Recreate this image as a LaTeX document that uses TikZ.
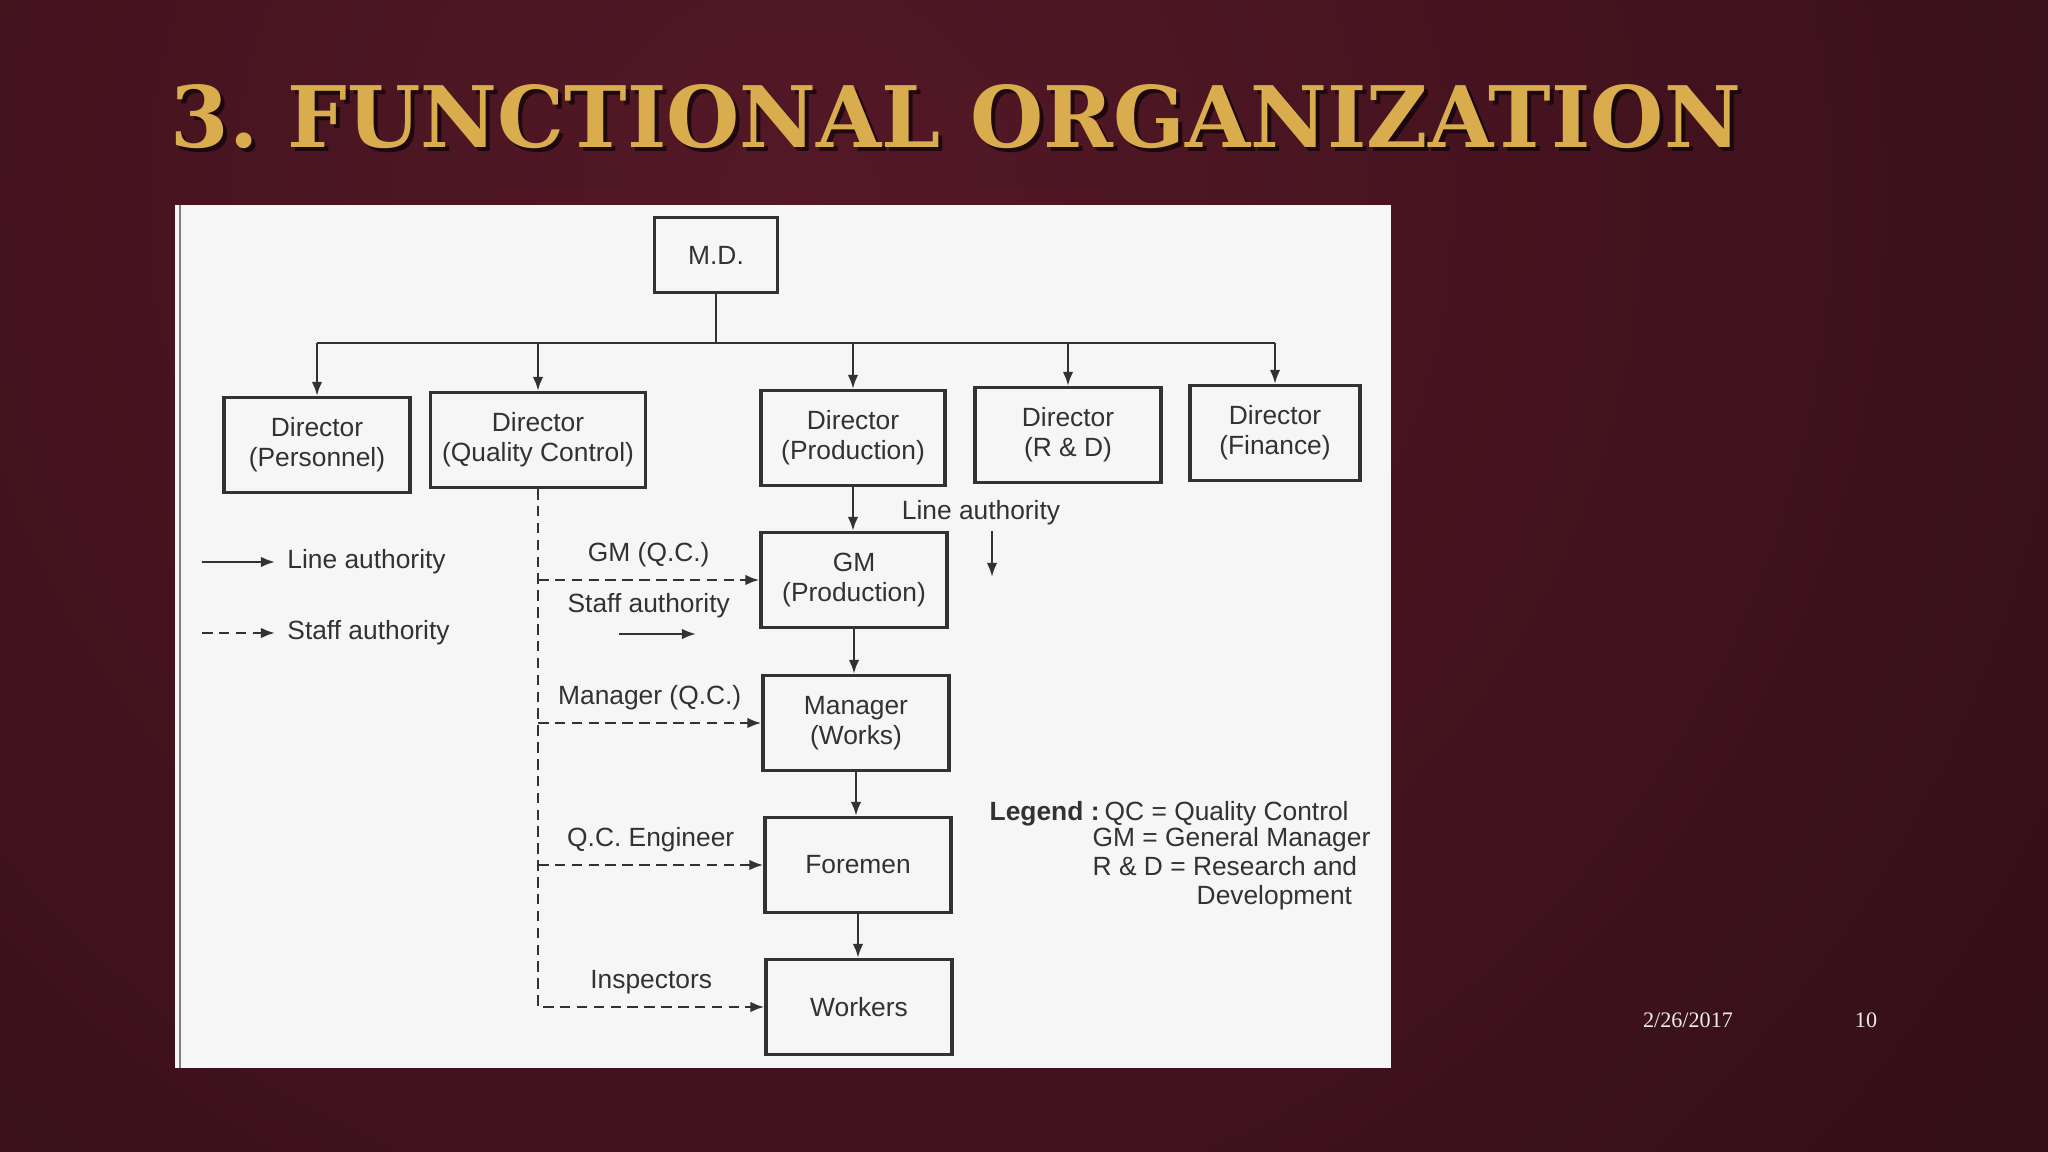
\documentclass[tikz,border=0pt]{standalone}
\usepackage{fontspec}
\setmainfont{Liberation Sans}
\newfontfamily\titlefont{DejaVu Serif}
\newfontfamily\datefont{Liberation Serif}
\usetikzlibrary{arrows.meta}
\definecolor{gold}{RGB}{217,172,78}
\definecolor{wine}{RGB}{84,24,38}
\definecolor{winedark}{RGB}{30,8,14}
\definecolor{ink}{RGB}{50,50,50}
\definecolor{paper}{RGB}{246,246,246}

\begin{document}
\begin{tikzpicture}[x=0.1mm, y=-0.1mm,
    box/.style={draw=ink, line width=0.9pt, fill=paper, text=ink, align=center, inner sep=0pt,
        minimum width=18.6mm, minimum height=9.5mm, font=\fontsize{7.5}{8.6}\selectfont},
    lbl/.style={text=ink, font=\fontsize{7.5}{8.6}\selectfont},
    line/.style={draw=ink, line width=0.7pt, -{Latex[length=4pt,width=3pt]}},
    staff/.style={line, dash pattern=on 3pt off 1.8pt}]

    % Slide background
    \begin{scope}
        \clip (0,0) rectangle (2048,1152);
        \shade[inner color=wine, outer color=winedark] (800,200) circle (2600);
    \end{scope}
    \useasboundingbox (0,0) rectangle (2048,1152);

    % Title with shadow
    \node[anchor=base west, inner sep=0, text=black, opacity=0.6] (titleshadow) at (174,152)
        {\resizebox{157mm}{6.3mm}{\titlefont\bfseries 3.~FUNCTIONAL ORGANIZATION}};
    \node[anchor=base west, inner sep=0, text=gold] (title) at (170,148)
        {\resizebox{157mm}{6.3mm}{\titlefont\bfseries 3.~FUNCTIONAL ORGANIZATION}};

    % Scanned page
    \fill[paper] (175,205) rectangle (1391,1068);
    \draw[gray, line width=0.8pt] (180,205) -- (180,1068);

    % Top level
    \node[box, minimum width=12.3mm, minimum height=7.5mm] (md) at (716,255) {M.D.};

    % Directors
    \node[box] (dpers) at (317,445) {Director\\(Personnel)};
    \node[box, minimum width=21.5mm] (dqc) at (538,440) {Director\\(Quality Control)};
    \node[box, minimum width=18.4mm] (dprod) at (853,438) {Director\\(Production)};
    \node[box] (drd) at (1068,435) {Director\\(R \& D)};
    \node[box, minimum width=17mm] (dfin) at (1275,433) {Director\\(Finance)};

    % Production line
    \node[box] (gmprod) at (854,580) {GM\\(Production)};
    \node[box] (mgr) at (856,723) {Manager\\(Works)};
    \node[box] (foremen) at (858,865) {Foremen};
    \node[box] (workers) at (859,1007) {Workers};

    % Bus from M.D. to directors
    \coordinate (bus) at (716,343);
    \draw[ink, line width=0.8pt] (md.south) -- (bus);
    \draw[ink, line width=0.8pt] (dpers.north |- bus) -- (dfin.north |- bus);
    \foreach \n in {dpers,dqc,dprod,drd,dfin}
        \draw[line] (\n.north |- bus) -- (\n.north);

    % Line authority
    \draw[line] (dprod.south) -- (dprod.south |- gmprod.north);
    \draw[line] (gmprod.south) -- (gmprod.south |- mgr.north);
    \draw[line] (mgr.south) -- (mgr.south |- foremen.north);
    \draw[line] (foremen.south) -- (foremen.south |- workers.north);

    % Staff authority from Q.C.
    \draw[staff] (dqc.south) |- node[lbl, pos=0.75, above] {Inspectors} (workers.west);
    \draw[staff] (dqc.south |- gmprod.west) -- node[lbl, above] {GM (Q.C.)}
        node[lbl, below] {Staff authority} (gmprod.west);
    \draw[staff] (dqc.south |- mgr.west) -- node[lbl, above] {Manager (Q.C.)} (mgr.west);
    \draw[staff] (dqc.south |- foremen.west) -- node[lbl, above] {Q.C. Engineer} (foremen.west);
    \coordinate (sa1) at (619,634);
    \coordinate (sa2) at (696,634);
    \draw[line] (sa1) -- (sa2);

    % Line authority note
    \node[lbl] (lineauth) at (981,513) {Line authority};
    \coordinate (la1) at (992,531);
    \coordinate (la2) at (992,577);
    \draw[line] (la1) -- (la2);

    % Key
    \node[lbl, anchor=west] (keyline) at (275,562) {Line authority};
    \node[lbl, anchor=west] (keystaff) at (275,633) {Staff authority};
    \draw[line] ([xshift=-7.3mm]keyline.west) -- (keyline.west);
    \draw[staff] ([xshift=-7.3mm]keystaff.west) -- (keystaff.west);

    % Legend
    \node[lbl, anchor=base west, inner sep=0] (legend) at (989,821) {\bfseries Legend :};
    \node[lbl, anchor=base west, inner sep=0] (legqc) at (1104,821) {QC = Quality Control};
    \node[lbl, anchor=base west, inner sep=0] (leggm) at (1092,847) {GM = General Manager};
    \node[lbl, anchor=base west, inner sep=0] (legrd) at (1092,876) {R \& D = Research and};
    \node[lbl, anchor=base west, inner sep=0] (legdev) at (1196,905) {Development};

    % Footer
    \node[text=white!85!gray, font=\datefont\fontsize{6.3}{7}\selectfont] (date) at (1688,1020) {2/26/2017};
    \node[text=white!85!gray, font=\datefont\fontsize{6.3}{7}\selectfont] (pagenum) at (1866,1020) {10};
\end{tikzpicture}
\end{document}
